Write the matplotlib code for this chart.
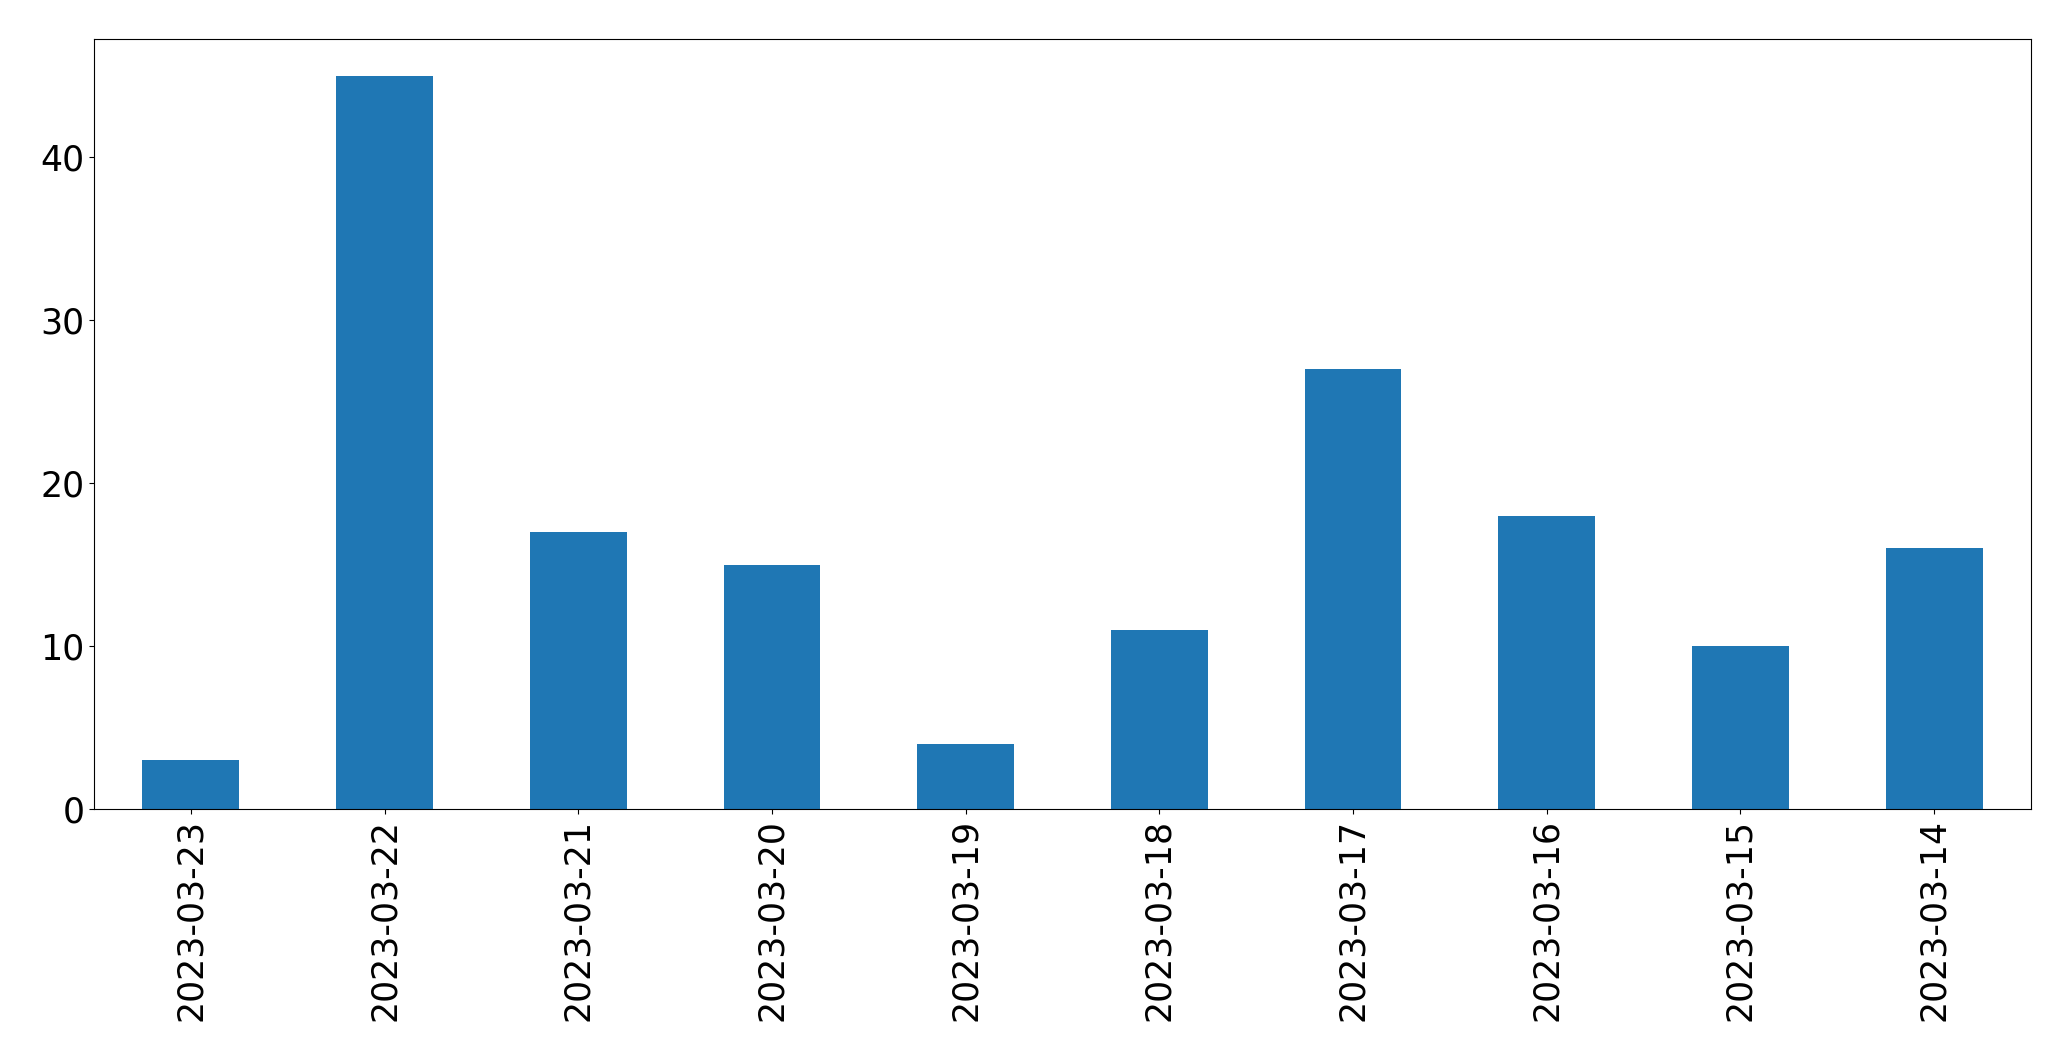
import matplotlib
matplotlib.use("Agg")
import matplotlib.pyplot as plt

# daily counts, newest first (as in the source)
dates = ["2023-03-23", "2023-03-22", "2023-03-21", "2023-03-20", "2023-03-19",
         "2023-03-18", "2023-03-17", "2023-03-16", "2023-03-15", "2023-03-14"]
counts = [3, 45, 17, 15, 4, 11, 27, 18, 10, 16]

fig = plt.figure(figsize=(20.71, 10.61), dpi=100)
ax = fig.add_axes([94 / 2071, 1 - 809 / 1061, (2031 - 94) / 2071, (809 - 39) / 1061])

x = range(len(dates))
ax.bar(x, counts, width=0.5, color="#1f77b4")
ax.set_xlim(-0.5, len(dates) - 0.5)
ax.set_ylim(0, max(counts) * 1.05)
ax.set_xticks(list(x))
ax.set_xticklabels(dates, rotation=90)
ax.tick_params(labelsize=25)

fig.savefig("out.png", dpi=100)
